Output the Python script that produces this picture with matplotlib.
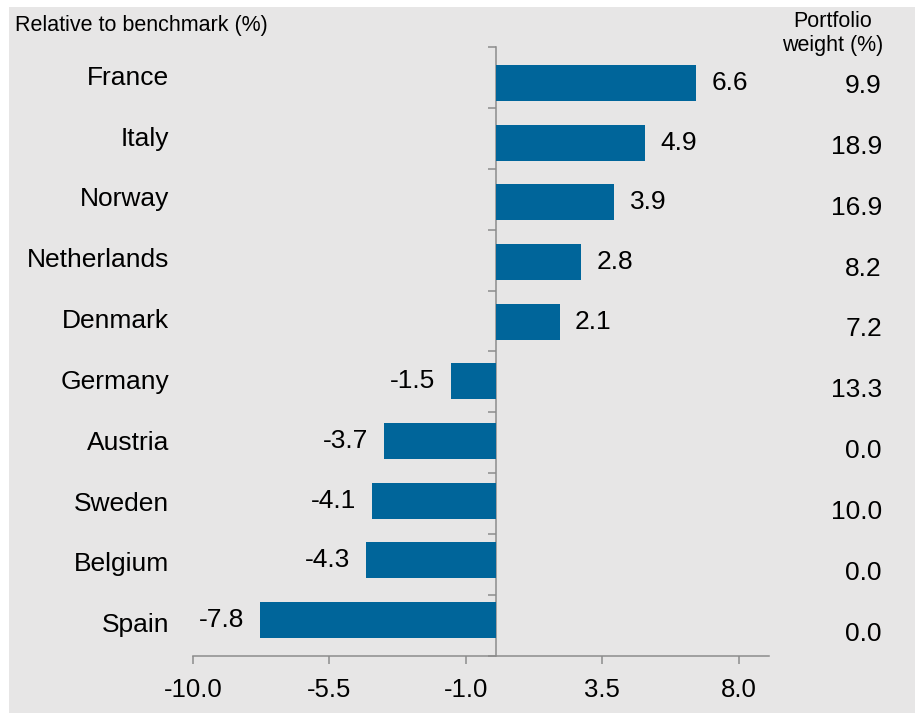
import matplotlib
matplotlib.use("Agg")
import matplotlib.pyplot as plt
import matplotlib.transforms as mtransforms
from matplotlib.patches import Rectangle

countries = ["France", "Italy", "Norway", "Netherlands", "Denmark",
             "Germany", "Austria", "Sweden", "Belgium", "Spain"]
relative = [6.6, 4.9, 3.9, 2.8, 2.1, -1.5, -3.7, -4.1, -4.3, -7.8]
weights = [9.9, 18.9, 16.9, 8.2, 7.2, 13.3, 0.0, 10.0, 0.0, 0.0]
xticks = [-10.0, -5.5, -1.0, 3.5, 8.0]

BG = "#e7e6e6"
BAR = "#00659a"
AXIS = "#8c8c8c"
FS = 19

plt.rcParams["font.family"] = ["Liberation Sans", "DejaVu Sans"]

fig = plt.figure(figsize=(9.15, 7.13), dpi=100, facecolor="white")
fig.add_artist(Rectangle((9 / 915, 0), 1, 706 / 713, transform=fig.transFigure,
                         facecolor=BG, edgecolor="none", zorder=-10))

rect = [193 / 915, 57.3 / 713, 576 / 915, 608.4 / 713]
ax = fig.add_axes(rect)
ax.set_facecolor("none")
# bars sit on their own (slightly wider) category scale, like the original
bx = fig.add_axes(rect, sharex=ax)
bx.set_facecolor("none")
bx.axis("off")

pos = list(range(len(countries)))
bx.barh(pos, relative, height=0.6, color=BAR, zorder=2)
bx.set_ylim(len(countries) - 0.4, -0.6)
ax.set_xlim(-10, 9)
ax.set_ylim(len(countries) - 0.5, -0.5)

# axes: zero line with category ticks, bottom axis
for side in ("top", "right"):
    ax.spines[side].set_visible(False)
ax.spines["left"].set_position(("data", 0))
for side in ("left", "bottom"):
    ax.spines[side].set_color(AXIS)
    ax.spines[side].set_linewidth(1.1)

ax.set_yticks(pos)
ax.set_yticklabels([])
ax.set_yticks([p - 0.5 for p in pos] + [len(pos) - 0.5], minor=True)
ax.tick_params(axis="y", which="major", length=0)
ax.tick_params(axis="y", which="minor", length=5.8, width=1.1, color=AXIS,
               direction="out")

ax.set_xticks(xticks)
ax.set_xticklabels([f"{v:.1f}" for v in xticks])
ax.tick_params(axis="x", length=5.8, width=1.1, color=AXIS, labelcolor="black",
               labelsize=18.5, pad=10)

# category names
trans = mtransforms.blended_transform_factory(ax.transAxes, ax.transData)
for i, name in enumerate(countries):
    ax.text(-24 / 576, i, name, ha="right", va="center", fontsize=FS,
            transform=trans)

# bar value labels
for i, v in enumerate(relative):
    bx.annotate(f"{v:.1f}", (v, i), xytext=(11 if v >= 0 else -11, 0),
                textcoords="offset points", ha="left" if v >= 0 else "right",
                va="center", fontsize=FS)

# portfolio weight column
wtrans = mtransforms.blended_transform_factory(fig.transFigure, ax.transData)
for i, w in enumerate(weights):
    ax.annotate(f"{w:.1f}", (882 / 915, i), xycoords=wtrans, xytext=(0, -6),
                textcoords="offset points", ha="right", va="center",
                fontsize=FS)

fig.text(15 / 915, 1 - 26 / 713, "Relative to benchmark (%)", ha="left",
         va="center", fontsize=15.5)
fig.text(833 / 915, 1 - 33.5 / 713, "Portfolio\nweight (%)", ha="center",
         va="center", fontsize=15.5, multialignment="center", linespacing=1.15)

plt.savefig("out.png", dpi=100, facecolor="white")
